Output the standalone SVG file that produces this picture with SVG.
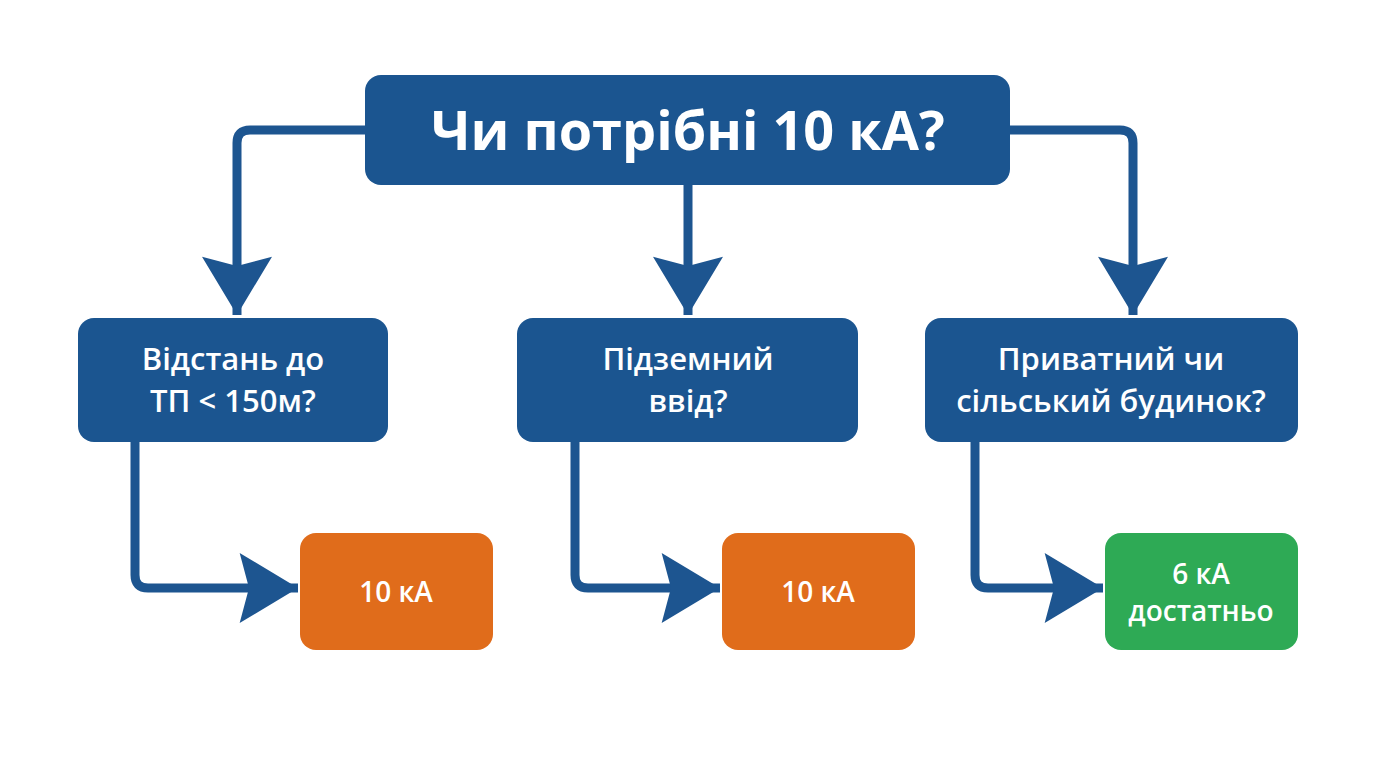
<svg xmlns="http://www.w3.org/2000/svg" width="1376" height="768" viewBox="0 0 1376 768">
<style>
.c{fill:none;stroke:#1d5590;stroke-width:9;stroke-linejoin:round}
.b{fill:#1b5590}.o{fill:#e06c1b}.g{fill:#2eaa55}
text{font-family:"Open Sans","Noto Sans",sans-serif;fill:#fff;text-anchor:middle;font-weight:600}
.t{font-size:54px;font-weight:700}.m{font-size:31px}.s{font-size:28px}
</style>
<defs>
<marker id="a" markerUnits="userSpaceOnUse" markerWidth="70" markerHeight="70" refX="50" refY="30" orient="auto" viewBox="0 0 50 60">
<path d="M0,0 L50,30 L0,60 L8,30 Z" fill="#1d5590"/>
</marker>
</defs>
<rect width="1376" height="768" fill="#fff"/>
<g id="connectors">
<path class="c" d="M365,130 H250 Q237,130 237,143 V315" marker-end="url(#a)"/>
<path class="c" d="M688,185 V315" marker-end="url(#a)"/>
<path class="c" d="M1010,130 H1120 Q1133,130 1133,143 V315" marker-end="url(#a)"/>
<path class="c" d="M135,442 V575 Q135,588 148,588 H298" marker-end="url(#a)"/>
<path class="c" d="M575,442 V575 Q575,588 588,588 H720" marker-end="url(#a)"/>
<path class="c" d="M975,442 V575 Q975,588 988,588 H1103" marker-end="url(#a)"/>
</g>
<g id="top"><rect class="b" x="365" y="75" width="645" height="110" rx="16"/><text class="t" x="688" y="150">Чи потрібні 10 кА?</text></g>
<g id="q1"><rect class="b" x="78" y="318" width="310" height="124" rx="16"/><text class="m" x="233" y="370">Відстань до</text><text class="m" x="233" y="412">ТП &lt; 150м?</text></g>
<g id="q2"><rect class="b" x="517" y="318" width="341" height="124" rx="16"/><text class="m" x="688" y="370">Підземний</text><text class="m" x="688" y="412">ввід?</text></g>
<g id="q3"><rect class="b" x="925" y="318" width="373" height="124" rx="16"/><text class="m" x="1111" y="370">Приватний чи</text><text class="m" x="1111" y="412">сільський будинок?</text></g>
<g id="r1"><rect class="o" x="300" y="533" width="193" height="117" rx="16"/><text class="s" x="396" y="602">10 кА</text></g>
<g id="r2"><rect class="o" x="722" y="533" width="193" height="117" rx="16"/><text class="s" x="818" y="602">10 кА</text></g>
<g id="r3"><rect class="g" x="1105" y="533" width="193" height="117" rx="16"/><text class="s" x="1201" y="584">6 кА</text><text class="s" x="1201" y="621">достатньо</text></g>
</svg>
